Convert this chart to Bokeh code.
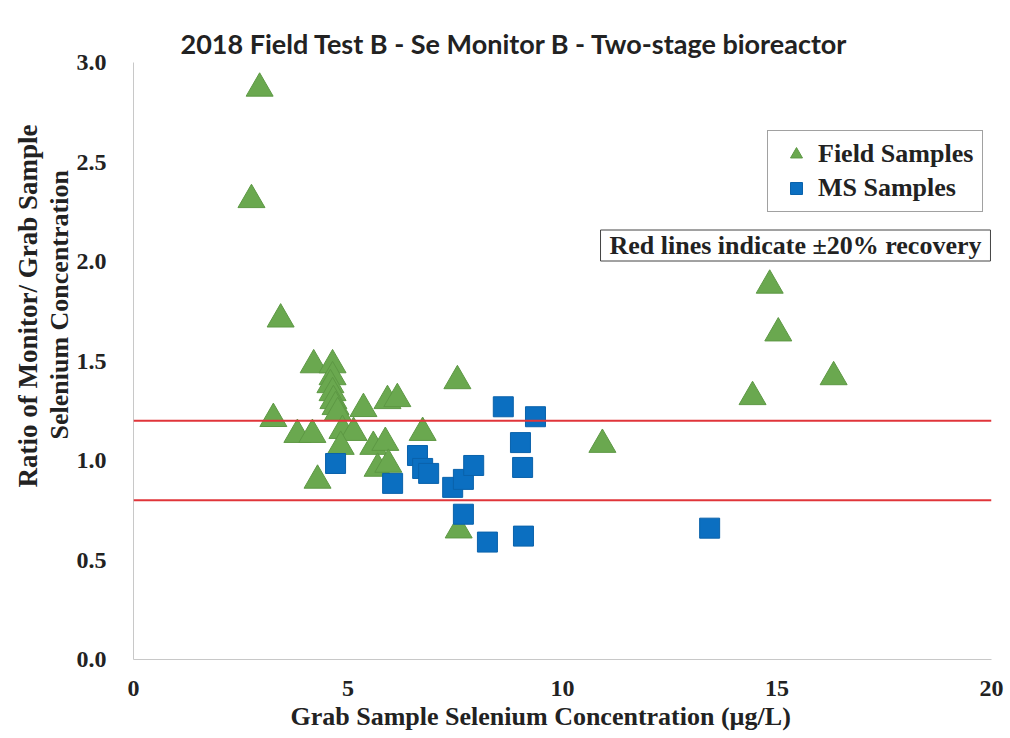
import numpy as np
from bokeh.plotting import figure
from bokeh.models import (Span, Label, Legend, LegendItem, FixedTicker,
                          NumeralTickFormatter, Title)
from bokeh.embed import file_html
from bokeh.resources import INLINE

# ---- data ----
field_x = [2.94, 2.75, 3.43, 3.26, 3.82, 4.17, 4.29, 4.20, 4.64, 4.64, 4.59, 4.64, 4.66,
           4.71, 4.76, 4.87, 5.13, 4.83, 5.36, 5.59, 5.87, 5.69, 5.94, 5.92, 6.15, 6.74,
           7.55, 7.58, 10.93, 14.43, 14.83, 15.03, 16.32]
field_y = [2.87, 2.31, 1.71, 1.21, 1.13, 1.13, 0.90, 1.48, 1.48, 1.42, 1.38, 1.34, 1.30,
           1.27, 1.24, 1.15, 1.14, 1.07, 1.26, 1.07, 1.09, 0.96, 0.98, 1.30, 1.31, 1.14,
           1.40, 0.65, 1.08, 1.32, 1.88, 1.64, 1.42]
ms_x = [4.71, 6.04, 6.62, 6.74, 6.88, 7.44, 7.69, 7.93, 7.69, 8.25, 9.09, 8.62, 9.37,
        9.02, 9.07, 13.43]
ms_y = [0.985, 0.885, 1.025, 0.96, 0.935, 0.865, 0.905, 0.975, 0.73, 0.59, 0.62, 1.27,
        1.22, 1.09, 0.965, 0.66]
recovery_bounds = [0.8, 1.2]
x_ticks = [0, 5, 10, 15, 20]
y_ticks = [0.0, 0.5, 1.0, 1.5, 2.0, 2.5, 3.0]

title_text = "2018 Field Test B - Se Monitor B - Two-stage bioreactor"
x_label = "Grab Sample Selenium Concentration (\u00b5g/L)"
y_label_1 = "Ratio of Monitor/ Grab Sample"
y_label_2 = "Selenium  Concentration"
note_text = "Red lines indicate \u00b120% recovery"

SERIF = "Liberation Serif"
GREEN = "#6aa84f"
BLUE = "#0b6fc1"
INK = "#222222"

p = figure(width=1010, height=738, x_range=(0, 20), y_range=(0, 3.0),
           output_backend="svg", toolbar_location=None,
           min_border_left=133, min_border_right=19, min_border_top=62, min_border_bottom=79)
p.outline_line_color = None
p.grid.grid_line_color = None
p.background_fill_color = "white"

p.title.text = title_text
p.title.text_font = "Lato"
p.title.text_font_style = "bold"
p.title.text_font_size = "27px"
p.title.text_color = INK
p.title.align = "left"
p.title.offset = 47
p.title.standoff = 6

for ax in (p.xaxis[0], p.yaxis[0]):
    ax.axis_line_color = "#c8c8c8"
    ax.axis_line_width = 1
    ax.major_tick_line_color = None
    ax.minor_tick_line_color = None
    ax.major_label_text_font = SERIF
    ax.major_label_text_font_style = "bold"
    ax.major_label_text_font_size = "24px"
    ax.major_label_text_color = INK
p.xaxis.ticker = FixedTicker(ticks=x_ticks)
p.yaxis.ticker = FixedTicker(ticks=y_ticks)
p.yaxis.formatter = NumeralTickFormatter(format="0.0")
p.xaxis.major_label_standoff = 15
p.yaxis.major_label_standoff = 21

for b in recovery_bounds:
    p.add_layout(Span(location=b, dimension="width", line_color="#e0353a", line_width=2))

r_field = p.scatter(field_x, field_y, marker="triangle", size=27,
                    fill_color=GREEN, line_color="#5d9844", line_width=1)
r_ms = p.scatter(ms_x, ms_y, marker="square", size=20,
                 fill_color=BLUE, line_color="#0a62ab", line_width=1)

legend = Legend(items=[LegendItem(label="Field Samples", renderers=[r_field]),
                       LegendItem(label="MS Samples", renderers=[r_ms])],
                location=(634, 447), orientation="vertical",
                padding=8, spacing=4, glyph_width=40, glyph_height=30,
                label_standoff=2, label_width=156, label_text_font=SERIF,
                label_text_font_style="bold", label_text_font_size="26px",
                label_text_color=INK, border_line_color="#444444", border_line_width=1,
                background_fill_color="white", background_fill_alpha=1, margin=0)
p.add_layout(legend, "center")

p.add_layout(Label(x=662, y=414, x_units="screen", y_units="screen", text=note_text,
                   text_align="center", text_baseline="middle", text_font=SERIF,
                   text_font_style="bold", text_font_size="26px", text_color=INK,
                   border_line_color="#444444", border_line_width=1,
                   background_fill_color="white", padding=(9, 1)))

xt = Title(text=x_label, align="left", offset=157, text_font=SERIF, text_font_style="bold",
           text_font_size="26px", text_color=INK, standoff=2)
p.add_layout(xt, "below")

yt2 = Title(text=y_label_2, align="left", offset=220, text_font=SERIF, text_font_style="bold",
            text_font_size="26px", text_color=INK, standoff=0)
yt1 = Title(text=y_label_1, align="left", offset=172, text_font=SERIF, text_font_style="bold",
            text_font_size="27px", text_color=INK, standoff=0)
p.add_layout(yt2, "left")
p.add_layout(yt1, "left")

open("out.html", "w").write(file_html(p, INLINE))
